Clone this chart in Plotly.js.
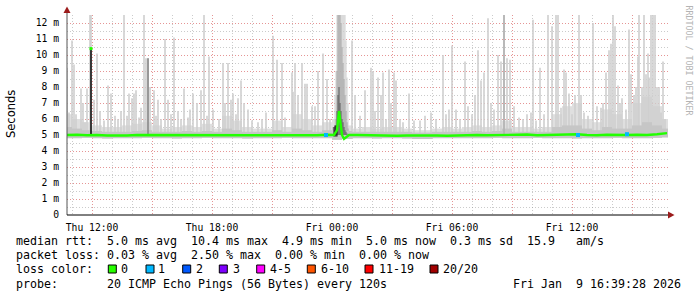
<!DOCTYPE html>
<html><head><meta charset="utf-8">
<script src="https://cdn.plot.ly/plotly-3.0.1.min.js"></script>
<style>html,body{margin:0;padding:0;background:#fff}#chart{width:697px;height:297px}</style>
</head><body><div id="chart"></div>
<script>
// Time axis: hours since Thu 2026-01-08 00:00 ; values in milliseconds
const tickVals = [12,15,18,21,24,27,30,33,36,39];
const tickText = ['Thu 12:00','','Thu 18:00','','Fri 00:00','','Fri 06:00','','Fri 12:00',''];
const yTickVals = [0,1,2,3,4,5,6,7,8,9,10,11,12];
const yTickText = ['0','1 m','2 m','3 m','4 m','5 m','6 m','7 m','8 m','9 m','10 m','11 m','12 m'];

// baseline smoke (half-hour bins)
const baseT = [10.75,11.25,11.75,12.25,12.75,13.25,13.75,14.25,14.75,15.25,
  15.75,16.25,16.75,17.25,17.75,18.25,18.75,19.25,19.75,20.25,
  20.75,21.25,21.75,22.25,22.75,23.25,23.75,24.25,24.75,25.25,
  25.75,26.25,26.75,27.25,27.75,28.25,28.75,29.25,29.75,30.25,
  30.75,31.25,31.75,32.25,32.75,33.25,33.75,34.25,34.75,35.25,
  35.75,36.25,36.75,37.25,37.75,38.25,38.75,39.25,39.75,40.25,
  40.75];
const baseHi = [6.3,6.0,5.8,5.6,5.5,5.5,5.6,5.7,5.8,5.6,
  5.4,5.5,5.6,5.5,5.7,5.4,6.2,5.9,5.5,5.4,
  5.4,5.9,5.5,6.3,6.0,5.6,5.8,6.0,5.6,5.4,
  5.5,5.4,5.5,5.5,5.4,5.3,5.3,5.4,5.5,5.4,
  5.5,5.6,5.5,5.6,5.9,5.5,5.5,5.4,5.5,6.3,
  6.8,7.0,6.0,5.8,6.6,6.3,6.0,7.0,7.4,6.8,
  6.0];
const midHi = [5.5,5.4,5.3,5.25,5.2,5.2,5.2,5.25,5.3,5.2,
  5.2,5.2,5.25,5.2,5.25,5.2,5.4,5.3,5.2,5.2,
  5.2,5.3,5.2,5.4,5.3,5.2,5.3,5.5,5.25,5.2,
  5.2,5.2,5.2,5.2,5.2,5.15,5.15,5.2,5.2,5.2,
  5.2,5.25,5.2,5.25,5.4,5.2,5.2,5.2,5.2,5.5,
  5.6,5.6,5.4,5.3,5.5,5.4,5.4,5.6,5.8,5.6,
  5.4];
const baseLo = [4.8,4.8,4.82,4.8,4.78,4.8,4.8,4.8,4.82,4.8,
  4.8,4.78,4.8,4.8,4.82,4.8,4.8,4.8,4.78,4.8,
  4.8,4.8,4.82,4.8,4.8,4.8,4.8,4.7,4.75,4.8,
  4.8,4.78,4.8,4.8,4.78,4.75,4.75,4.8,4.8,4.8,
  4.8,4.8,4.8,4.82,4.8,4.8,4.8,4.82,4.8,4.8,
  4.8,4.78,4.8,4.8,4.8,4.82,4.8,4.8,4.8,4.82,
  4.85];

// smoke spikes (max ping per step)
const spikeT = [10.75,10.85,11.0,11.1,11.2,11.45,11.55,11.65,11.75,11.9,
  11.95,12.1,12.25,12.4,12.6,12.8,12.95,13.15,13.3,13.45,
  13.6,13.75,13.85,14.0,14.1,14.2,14.35,14.45,14.6,14.7,
  14.8,14.9,15.1,15.2,15.3,15.45,15.65,15.8,15.95,16.1,
  16.3,16.45,16.6,16.8,16.9,17.05,17.25,17.45,17.6,17.75,
  17.85,18.05,18.35,18.55,18.65,18.8,18.95,19.05,19.2,19.3,
  19.45,19.6,19.8,20.0,20.3,20.5,20.7,21.05,21.25,21.5,
  21.65,22.0,22.05,22.15,22.3,22.5,22.65,22.75,23.0,23.15,
  23.3,23.55,23.75,23.9,25.0,25.15,25.4,25.65,25.95,26.05,
  26.15,26.3,26.45,26.55,26.7,26.85,26.95,27.1,27.2,27.4,
  27.55,27.85,28.1,28.4,28.65,28.95,29.2,29.55,29.7,29.85,
  30.0,30.2,30.4,30.65,30.8,31.0,31.15,31.3,31.45,31.6,
  31.8,31.95,32.1,32.3,32.45,32.6,32.75,32.9,33.1,33.35,
  33.55,33.75,33.95,34.05,34.2,34.4,34.6,34.8,35.0,35.2,
  35.3,35.45,35.6,35.7,35.85,36.0,36.15,36.35,36.45,36.6,
  36.8,37.05,37.25,37.45,37.55,37.7,37.85,37.95,38.05,38.15,
  38.3,38.4,38.5,38.7,38.85,38.95,39.1,39.2,39.3,39.35,
  39.5,39.6,39.7,39.8,39.85,39.95,40.05,40.15,40.25,40.35,
  40.45,40.55,40.65];
const spikeTop = [9.2,6.4,10.9,9.4,6.3,7.9,7.0,5.8,7.9,12.5,
  12.5,7.2,10.1,6.5,5.9,8.1,7.6,6.2,6.0,6.5,
  12.5,6.2,7.6,7.3,7.6,7.8,6.1,6.7,12.5,9.8,
  9.8,8.0,7.8,6.2,7.2,6.0,11.0,7.2,6.3,11.1,
  6.5,6.0,7.9,6.1,6.6,7.6,7.0,7.8,12.5,6.2,
  9.9,6.6,6.0,9.5,7.0,9.5,7.2,7.6,6.3,7.3,
  8.4,7.0,6.6,5.9,5.8,6.0,6.4,11.2,9.7,9.5,
  6.1,8.9,7.7,9.5,7.5,9.5,8.2,8.2,6.8,6.8,
  9.0,10.1,8.5,6.0,10.9,7.5,6.2,7.8,9.2,9.0,
  6.5,8.6,7.5,8.9,6.0,9.1,7.0,8.9,8.4,6.0,
  5.8,7.6,5.9,5.9,6.2,6.4,6.0,10.0,6.3,6.6,
  10.6,6.6,6.0,9.6,6.8,6.3,7.5,10.3,8.4,8.9,
  12.3,7.0,6.6,10.0,9.6,12.5,9.8,9.7,6.8,6.1,
  6.0,6.3,6.4,12.2,5.9,9.2,6.3,12.5,11.8,12.5,
  12.5,6.7,9.1,8.9,7.6,6.3,7.5,12.5,7.5,6.4,
  6.2,12.0,6.8,6.7,7.0,8.9,10.3,10.7,12.5,11.8,
  8.1,7.0,7.3,6.6,11.6,8.8,7.5,8.0,9.9,12.5,
  8.0,12.5,8.8,10.1,8.6,12.5,12.5,12.5,8.0,8.0,
  6.4,9.6,6.0];

// the loss event just after midnight
const eventT = [24.15,24.2,24.25,24.3,24.35,24.4,24.45,24.5,24.55,24.6,24.65,24.7,24.75,24.8];
const eventMax = [7.5,9.0,12.5,12.5,12.5,12.5,12.5,12.5,12.5,12.5,12.5,10.9,8.6,7.0];
const eventUpper = [5.6,6.0,9.0,12.5,12.5,12.5,12.0,10.5,9.5,8.5,7.5,6.5,5.8,5.4];
const eventCore = [5.3,5.6,6.5,7.5,8.0,7.0,6.5,6.0,5.8,5.5,5.3,5.2,5.1,5.0];
const eventBlackT = [24.1,24.15,24.2,24.25];
const eventBlackTop = [5.5,5.6,5.6,5.4];

// darker single spikes
const darkT = [11.95,14.8,32.6];
const darkTop = [10.4,9.8,12.5];

// median rtt
const medT = [10.75,11.25,11.75,12.25,12.75,13.25,13.75,14.25,14.75,15.25,
  15.75,16.25,16.75,17.25,17.75,18.25,18.75,19.25,19.75,20.25,
  20.75,21.25,21.75,22.25,22.75,23.25,23.75,
  24.1,24.25,24.3,24.35,24.4,24.45,24.5,24.6,24.7,24.85,
  25.25,25.75,26.25,26.75,27.25,27.75,28.25,28.75,29.25,29.75,
  30.25,30.75,31.25,31.75,32.25,32.75,33.25,33.75,34.25,34.75,
  35.25,35.75,36.25,36.75,37.25,37.75,38.25,38.75,39.25,39.75,
  40.25,40.75];
const medV = [5.0,5.02,4.98,5.0,4.97,4.95,4.97,5.0,5.0,4.97,
  4.96,4.98,5.0,4.97,5.0,4.98,5.0,5.0,4.97,4.98,
  5.0,4.97,4.98,5.0,5.0,4.98,5.02,
  5.0,5.3,5.8,6.5,6.0,5.6,5.0,4.75,4.85,5.0,
  5.0,4.98,5.0,4.98,4.95,4.97,4.98,5.0,4.97,4.95,
  4.97,5.0,5.0,4.98,5.0,5.02,5.0,5.03,4.98,5.0,
  5.02,5.0,5.05,5.0,4.98,5.02,5.0,5.0,5.02,5.0,
  5.05,5.12];
const medSpikeT = [11.95];
const medSpikeV = [10.4];
const loss1T = [23.7,36.3,38.75];
const loss1V = [5.0,5.0,5.05];

const lossLabels = ['0','1','2','3','4-5','6-10','11-19','20/20'];
const lossColors = ['#26ff00','#00b8ff','#0059ff','#7e00ff','#ff00ff','#ff5500','#ff0000','#a10000'];

// ---------- drawing ----------
const PL=67, PR=668, PT=15, PB=215;
const px = X => (X-PL)/(PR-PL);
const py = Y => (PB-Y)/(PB-PT);

function bars(xs, lo, hi, w, color){
  const base = xs.map((_,i)=> Array.isArray(lo)? lo[i] : lo);
  return {type:'bar', x:xs, base:base, y:hi.map((h,i)=> h==null?null:h-base[i]), width:w,
    marker:{color:color, line:{width:0}}, hoverinfo:'skip', showlegend:false};
}

const traces = [
  bars(baseT, baseLo, baseHi, 0.5, '#dfdfdf'),
  bars(spikeT, 5.0, spikeTop, 0.08, '#cfcfcf'),
  bars(eventT, 5.0, eventMax, 0.05, '#d0d0d0'),
  bars(eventT, 5.0, eventUpper, 0.05, '#a9a9a9'),
  bars(baseT, baseLo, midHi, 0.5, '#c6c6c6'),
  bars(eventT, 5.0, eventCore, 0.05, '#5a5a5a'),
  bars(eventBlackT, 4.9, eventBlackTop, 0.05, '#151515'),
  Object.assign(bars(darkT, 5.0, darkTop, 0.08, '#222'), {marker:{color:['#111','#8a8a8a','#b2b2b2'], line:{width:0}}}),
  {type:'scatter', mode:'lines', x:medT, y:medV, line:{color:'#22ff00', width:2.4}, hoverinfo:'skip', showlegend:false},
  {type:'scatter', mode:'markers', x:medSpikeT, y:medSpikeV, marker:{symbol:'square', size:3, color:'#22ff00'}, hoverinfo:'skip', showlegend:false},
  {type:'scatter', mode:'markers', x:loss1T, y:loss1V, marker:{symbol:'square', size:4, color:'#00b8ff'}, hoverinfo:'skip', showlegend:false}
];

const mono = 'DejaVu Sans Mono';
const NB = s => s.replace(/ /g,'\u00a0');
const anns = [];
function txt(X, Y, s, size, opts){
  anns.push(Object.assign({xref:'paper', yref:'paper', x:px(X), y:py(Y), text:NB(s), showarrow:false,
    xanchor:'left', yanchor:'middle', borderpad:0, font:{family:mono, size:size, color:'#000'}}, opts||{}));
}
txt(15, 241, 'median rtt:  5.0 ms avg  10.4 ms max  4.9 ms min  5.0 ms now  0.3 ms sd  15.9   am/s', 11.63);
txt(15, 255, 'packet loss: 0.03 % avg  2.50 % max  0.00 % min  0.00 % now', 11.63);
txt(15, 269, 'loss color:', 11.63);
txt(15, 284, 'probe:       20 ICMP Echo Pings (56 Bytes) every 120s', 11.63);
txt(512, 284, 'Fri Jan  9 16:39:28 2026', 11.63);
const labX = [121,158.3,196.3,233.3,270,320.7,379.3,443.3];
const boxX = [108.3,146,182.7,219.3,256.7,307.3,365,430];
lossLabels.forEach((l,i)=> txt(labX[i]-1, 269, l, 11.63));
anns.push({xref:'paper', yref:'paper', x:px(11), y:py(114), text:'Seconds', textangle:-90, showarrow:false,
  xanchor:'center', yanchor:'middle', font:{family:'DejaVu Sans', size:11.5, color:'#000'}});
anns.push({xref:'paper', yref:'paper', x:px(688.5), y:py(60), text:NB('RRDTOOL / TOBI OETIKER'), textangle:90, showarrow:false,
  xanchor:'center', yanchor:'middle', font:{family:mono, size:8.3, color:'#b4b4b4'}});

const shapes = [];
lossColors.forEach((c,i)=> shapes.push({type:'rect', xref:'paper', yref:'paper',
  x0:px(boxX[i]), x1:px(boxX[i]+8), y0:py(273), y1:py(265), fillcolor:c, line:{color:'#000', width:1}}));
const P = (X,Y)=> px(X)+','+py(Y);
shapes.push({type:'line', xref:'paper', yref:'paper', x0:px(67), x1:px(67), y0:py(215), y1:py(10), line:{color:'#555', width:1}});
shapes.push({type:'path', xref:'paper', yref:'paper', path:'M'+P(63.5,13)+' L'+P(70.5,13)+' L'+P(67,6.5)+' Z', fillcolor:'#9b1b1b', line:{width:0}});
shapes.push({type:'line', xref:'paper', yref:'paper', x0:px(67), x1:px(670), y0:py(215), y1:py(215), line:{color:'#000', width:1}});
shapes.push({type:'path', xref:'paper', yref:'paper', path:'M'+P(668,211.5)+' L'+P(668,218.5)+' L'+P(674.5,215)+' Z', fillcolor:'#9b1b1b', line:{width:0}});

const gridMajor = 'rgba(255,95,95,0.5)';
const gridMinor = 'rgba(140,140,140,0.45)';
const layout = {
  width:697, height:297, margin:{l:67, r:29, t:15, b:82, pad:0},
  paper_bgcolor:'#fff', plot_bgcolor:'#fff', barmode:'overlay', showlegend:false,
  xaxis:{range:[10.75,40.8], tickmode:'array', tickvals:tickVals, ticktext:tickText,
    showgrid:true, gridcolor:gridMajor, griddash:'1px,2px', gridwidth:1,
    minor:{dtick:1, tick0:0, showgrid:true, gridcolor:gridMinor, griddash:'1px,2px', gridwidth:1, ticks:''},
    showline:false, zeroline:false, ticks:'outside', ticklen:3, tickcolor:'rgba(0,0,0,0)',
    tickfont:{family:mono, size:9.7, color:'#000'}, fixedrange:true},
  yaxis:{range:[0,12.5], tickmode:'array', tickvals:yTickVals, ticktext:yTickText,
    showgrid:true, gridcolor:gridMajor, griddash:'1px,2px', gridwidth:1,
    minor:{dtick:0.5, tick0:0, showgrid:true, gridcolor:gridMinor, griddash:'1px,2px', gridwidth:1, ticks:''},
    showline:false, zeroline:false, ticks:'outside', ticklen:5, tickcolor:'rgba(0,0,0,0)',
    tickfont:{family:mono, size:9.7, color:'#000'}, fixedrange:true},
  annotations:anns, shapes:shapes
};
Plotly.newPlot('chart', traces, layout, {staticPlot:true, displayModeBar:false});
</script>
</body></html>
